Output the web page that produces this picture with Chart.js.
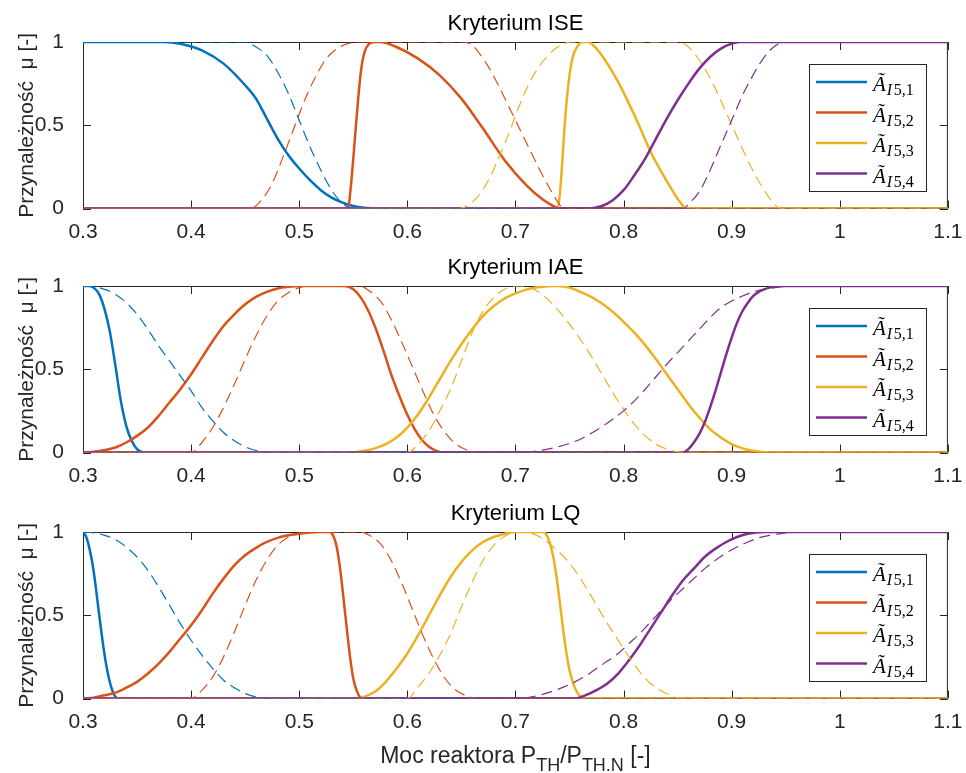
<!DOCTYPE html>
<html><head><meta charset="utf-8">
<script src="https://cdn.jsdelivr.net/npm/chart.js@4.4.0/dist/chart.umd.min.js"></script>
<style>
html,body{margin:0;padding:0;background:#fff;width:966px;height:773px;overflow:hidden}
canvas{position:absolute;left:0}
</style></head><body>
<canvas id="c0" width="966" height="245" style="top:0px"></canvas>
<canvas id="c1" width="966" height="245" style="top:244px"></canvas>
<canvas id="c2" width="966" height="283" style="top:490px"></canvas>
<script>
// ---------- tick values / labels ----------
const xTicks = [0.3,0.4,0.5,0.6,0.7,0.8,0.9,1.0,1.1];
const xTickLabels = ['0.3','0.4','0.5','0.6','0.7','0.8','0.9','1','1.1'];
const yTicks = [0,0.5,1];
const yTickLabels = ['0','0.5','1'];
const panelTitles = ['Kryterium ISE','Kryterium IAE','Kryterium LQ'];
const yTitle = 'Przynależność  μ [-]';
const xTitleParts = [['Moc reaktora P',0],['TH',1],['/P',0],['TH.N',1],[' [-]',0]];
const legendMain = 'Ã';
const legendSubs = ['I','I','I','I'];
const legendIdx = ['5,1','5,2','5,3','5,4'];
const colors = ['#0072BD','#D95319','#EDB120','#7E2F8E'];

// ---------- ISE (x, mu) ----------
const ISE_s1 = [[0.3,1],[0.375,1],[0.39,0.99],[0.41,0.95],[0.43,0.87],[0.45,0.74],[0.46,0.66],[0.47,0.54],[0.48,0.42],[0.49,0.32],[0.5,0.24],[0.51,0.17],[0.52,0.11],[0.53,0.065],[0.54,0.035],[0.55,0.015],[0.56,0.005],[0.575,0],[1.1,0]];
const ISE_d1 = [[0.3,1],[0.45,1],[0.46,0.97],[0.47,0.92],[0.48,0.82],[0.49,0.69],[0.5,0.53],[0.51,0.37],[0.52,0.23],[0.53,0.11],[0.54,0.03],[0.55,0],[1.1,0]];
const ISE_s2 = [[0.3,0],[0.545,0],[0.548,0.15],[0.551,0.38],[0.554,0.62],[0.557,0.82],[0.56,0.93],[0.564,0.985],[0.57,1],[0.575,1],[0.59,0.97],[0.61,0.9],[0.63,0.8],[0.65,0.66],[0.67,0.48],[0.69,0.29],[0.71,0.14],[0.725,0.055],[0.735,0.015],[0.742,0],[1.1,0]];
const ISE_d2 = [[0.3,0],[0.455,0],[0.465,0.05],[0.475,0.15],[0.485,0.31],[0.495,0.48],[0.505,0.65],[0.515,0.79],[0.525,0.9],[0.535,0.96],[0.545,0.99],[0.555,1],[0.652,1],[0.66,0.98],[0.668,0.92],[0.676,0.84],[0.685,0.73],[0.694,0.61],[0.703,0.49],[0.712,0.37],[0.721,0.25],[0.73,0.14],[0.738,0.05],[0.745,0],[1.1,0]];
const ISE_s3 = [[0.3,0],[0.739,0],[0.741,0.08],[0.743,0.25],[0.745,0.45],[0.747,0.62],[0.75,0.8],[0.753,0.91],[0.757,0.97],[0.762,1],[0.767,1],[0.775,0.96],[0.785,0.87],[0.795,0.76],[0.805,0.63],[0.815,0.49],[0.825,0.34],[0.835,0.22],[0.845,0.11],[0.852,0.04],[0.858,0],[1.1,0]];
const ISE_d3 = [[0.3,0],[0.648,0],[0.655,0.015],[0.665,0.07],[0.675,0.17],[0.685,0.31],[0.695,0.47],[0.705,0.64],[0.715,0.78],[0.725,0.88],[0.735,0.95],[0.745,0.99],[0.752,1],[0.852,1],[0.86,0.97],[0.868,0.91],[0.876,0.83],[0.885,0.72],[0.894,0.59],[0.903,0.46],[0.912,0.33],[0.921,0.21],[0.93,0.11],[0.938,0.04],[0.945,0],[1.1,0]];
const ISE_s4 = [[0.3,0],[0.768,0],[0.78,0.015],[0.79,0.05],[0.8,0.11],[0.81,0.2],[0.82,0.3],[0.83,0.42],[0.84,0.54],[0.85,0.65],[0.86,0.75],[0.87,0.84],[0.88,0.91],[0.89,0.96],[0.9,0.99],[0.907,1],[1.1,1]];
const ISE_d4 = [[0.3,0],[0.855,0],[0.862,0.04],[0.87,0.1],[0.878,0.2],[0.886,0.32],[0.894,0.44],[0.902,0.56],[0.91,0.68],[0.918,0.78],[0.926,0.87],[0.934,0.94],[0.941,0.98],[0.948,1],[1.1,1]];

// ---------- IAE ----------
const IAE_s1 = [[0.3,1],[0.305,1],[0.31,0.99],[0.315,0.95],[0.32,0.86],[0.325,0.72],[0.33,0.52],[0.335,0.31],[0.34,0.16],[0.345,0.07],[0.35,0.02],[0.356,0],[1.1,0]];
const IAE_d1 = [[0.3,1],[0.31,0.995],[0.32,0.98],[0.33,0.95],[0.34,0.9],[0.35,0.83],[0.36,0.74],[0.37,0.64],[0.38,0.55],[0.39,0.46],[0.4,0.37],[0.41,0.27],[0.42,0.19],[0.43,0.12],[0.44,0.07],[0.45,0.035],[0.46,0.012],[0.47,0],[1.1,0]];
const IAE_s2 = [[0.3,0],[0.31,0.005],[0.32,0.015],[0.33,0.03],[0.34,0.06],[0.35,0.1],[0.36,0.15],[0.37,0.22],[0.38,0.3],[0.39,0.38],[0.4,0.47],[0.41,0.57],[0.42,0.67],[0.43,0.76],[0.44,0.83],[0.45,0.89],[0.46,0.935],[0.47,0.965],[0.48,0.985],[0.49,0.995],[0.5,1],[0.542,1],[0.55,0.98],[0.557,0.93],[0.564,0.85],[0.571,0.74],[0.578,0.61],[0.585,0.47],[0.592,0.35],[0.599,0.24],[0.606,0.15],[0.613,0.08],[0.62,0.035],[0.627,0.01],[0.633,0],[1.1,0]];
const IAE_d2 = [[0.3,0],[0.4,0],[0.41,0.06],[0.42,0.15],[0.43,0.27],[0.44,0.41],[0.45,0.56],[0.46,0.7],[0.47,0.82],[0.48,0.91],[0.49,0.96],[0.5,0.99],[0.51,1],[0.556,1],[0.565,0.97],[0.575,0.91],[0.585,0.8],[0.595,0.66],[0.605,0.51],[0.615,0.36],[0.625,0.22],[0.635,0.12],[0.645,0.05],[0.655,0.015],[0.665,0],[1.1,0]];
const IAE_s3 = [[0.3,0],[0.55,0],[0.56,0.01],[0.57,0.025],[0.58,0.05],[0.59,0.09],[0.6,0.15],[0.61,0.23],[0.62,0.33],[0.63,0.44],[0.64,0.55],[0.65,0.65],[0.66,0.74],[0.67,0.82],[0.68,0.88],[0.69,0.925],[0.7,0.955],[0.71,0.978],[0.72,0.992],[0.73,0.999],[0.74,1],[0.75,0.99],[0.76,0.965],[0.77,0.935],[0.78,0.895],[0.79,0.845],[0.8,0.785],[0.81,0.72],[0.82,0.645],[0.83,0.56],[0.84,0.47],[0.85,0.38],[0.86,0.29],[0.87,0.21],[0.88,0.14],[0.89,0.09],[0.9,0.05],[0.91,0.025],[0.92,0.01],[0.935,0],[1.1,0]];
const IAE_d3 = [[0.3,0],[0.6,0],[0.61,0.05],[0.62,0.13],[0.63,0.25],[0.64,0.38],[0.65,0.55],[0.66,0.72],[0.67,0.85],[0.68,0.93],[0.69,0.98],[0.7,1],[0.708,1],[0.72,0.97],[0.73,0.92],[0.74,0.85],[0.75,0.77],[0.76,0.68],[0.77,0.58],[0.78,0.47],[0.79,0.36],[0.8,0.26],[0.81,0.17],[0.82,0.1],[0.83,0.05],[0.84,0.02],[0.85,0.005],[0.856,0],[1.1,0]];
const IAE_s4 = [[0.3,0],[0.855,0],[0.86,0.02],[0.865,0.06],[0.87,0.11],[0.875,0.18],[0.88,0.27],[0.885,0.37],[0.89,0.48],[0.895,0.59],[0.9,0.69],[0.905,0.78],[0.91,0.85],[0.915,0.9],[0.92,0.94],[0.925,0.965],[0.93,0.98],[0.935,0.99],[0.942,1],[1.1,1]];
const IAE_d4 = [[0.3,0],[0.71,0],[0.72,0.01],[0.73,0.02],[0.74,0.035],[0.75,0.055],[0.76,0.08],[0.77,0.115],[0.78,0.155],[0.79,0.2],[0.8,0.25],[0.81,0.31],[0.82,0.38],[0.83,0.455],[0.84,0.53],[0.85,0.6],[0.86,0.67],[0.87,0.74],[0.88,0.81],[0.89,0.87],[0.9,0.91],[0.91,0.94],[0.92,0.965],[0.93,0.98],[0.94,0.99],[0.955,1],[1.1,1]];

// ---------- LQ ----------
const LQ_s1 = [[0.3,1],[0.303,0.97],[0.306,0.9],[0.309,0.8],[0.312,0.66],[0.315,0.5],[0.318,0.35],[0.321,0.22],[0.324,0.12],[0.327,0.05],[0.33,0.01],[0.333,0],[1.1,0]];
const LQ_d1 = [[0.3,1],[0.31,0.995],[0.32,0.98],[0.33,0.955],[0.34,0.91],[0.35,0.85],[0.36,0.77],[0.37,0.67],[0.38,0.56],[0.39,0.45],[0.4,0.35],[0.41,0.26],[0.42,0.18],[0.43,0.11],[0.44,0.065],[0.45,0.03],[0.46,0.01],[0.47,0],[1.1,0]];
const LQ_s2 = [[0.3,0],[0.31,0.005],[0.32,0.02],[0.33,0.035],[0.34,0.065],[0.35,0.1],[0.36,0.15],[0.37,0.21],[0.38,0.28],[0.39,0.36],[0.4,0.44],[0.41,0.53],[0.42,0.63],[0.43,0.72],[0.44,0.8],[0.45,0.86],[0.46,0.905],[0.47,0.94],[0.48,0.965],[0.49,0.98],[0.5,0.99],[0.51,0.997],[0.52,1],[0.528,1],[0.532,0.97],[0.535,0.9],[0.538,0.77],[0.541,0.6],[0.544,0.42],[0.547,0.25],[0.55,0.12],[0.553,0.05],[0.556,0.01],[0.559,0],[1.1,0]];
const LQ_d2 = [[0.3,0],[0.4,0],[0.41,0.05],[0.42,0.13],[0.43,0.25],[0.44,0.4],[0.45,0.56],[0.46,0.71],[0.47,0.83],[0.48,0.92],[0.49,0.97],[0.5,0.99],[0.51,1],[0.557,1],[0.565,0.98],[0.575,0.93],[0.585,0.83],[0.595,0.69],[0.605,0.53],[0.615,0.37],[0.625,0.23],[0.635,0.12],[0.645,0.05],[0.655,0.015],[0.665,0],[1.1,0]];
const LQ_s3 = [[0.3,0],[0.555,0],[0.56,0.01],[0.57,0.04],[0.58,0.1],[0.59,0.18],[0.6,0.27],[0.61,0.38],[0.62,0.5],[0.63,0.62],[0.64,0.73],[0.65,0.82],[0.66,0.89],[0.67,0.94],[0.68,0.97],[0.69,0.99],[0.7,1],[0.726,1],[0.729,0.98],[0.732,0.93],[0.735,0.85],[0.738,0.73],[0.741,0.58],[0.744,0.42],[0.747,0.28],[0.75,0.17],[0.753,0.1],[0.756,0.05],[0.759,0.02],[0.763,0],[1.1,0]];
const LQ_d3 = [[0.3,0],[0.6,0],[0.61,0.07],[0.62,0.15],[0.63,0.26],[0.64,0.39],[0.65,0.55],[0.66,0.7],[0.67,0.83],[0.68,0.92],[0.69,0.975],[0.7,0.998],[0.708,1],[0.716,0.99],[0.725,0.96],[0.735,0.91],[0.745,0.85],[0.755,0.77],[0.765,0.67],[0.775,0.56],[0.785,0.45],[0.795,0.35],[0.805,0.25],[0.815,0.16],[0.825,0.09],[0.835,0.045],[0.845,0.015],[0.852,0],[1.1,0]];
const LQ_s4 = [[0.3,0],[0.755,0],[0.765,0.02],[0.775,0.05],[0.785,0.09],[0.795,0.15],[0.805,0.23],[0.815,0.32],[0.825,0.42],[0.835,0.52],[0.845,0.62],[0.855,0.71],[0.865,0.78],[0.875,0.85],[0.885,0.9],[0.895,0.94],[0.905,0.97],[0.915,0.99],[0.93,1],[1.1,1]];
const LQ_d4 = [[0.3,0],[0.705,0],[0.715,0.01],[0.725,0.025],[0.735,0.045],[0.745,0.07],[0.755,0.1],[0.765,0.135],[0.775,0.18],[0.785,0.225],[0.795,0.27],[0.805,0.33],[0.815,0.39],[0.825,0.46],[0.835,0.53],[0.845,0.6],[0.855,0.66],[0.865,0.72],[0.875,0.78],[0.885,0.83],[0.895,0.875],[0.905,0.91],[0.915,0.94],[0.925,0.965],[0.935,0.98],[0.945,0.99],[0.96,1],[1.1,1]];

const panels = [
  {solid:[ISE_s1,ISE_s2,ISE_s3,ISE_s4], dashed:[ISE_d1,ISE_d2,ISE_d3,ISE_d4]},
  {solid:[IAE_s1,IAE_s2,IAE_s3,IAE_s4], dashed:[IAE_d1,IAE_d2,IAE_d3,IAE_d4]},
  {solid:[LQ_s1,LQ_s2,LQ_s3,LQ_s4], dashed:[LQ_d1,LQ_d2,LQ_d3,LQ_d4]}
];

const SANS = '"Liberation Sans", Arial, sans-serif';
const SERIF = '"Liberation Serif", "Times New Roman", serif';
const AXC = '#262626';

const toXY = arr => arr.map(p => ({x:p[0], y:p[1]}));

const matlabPlugin = {
  id: 'matlabAxes',
  beforeDatasetsDraw(chart) {
    const ctx = chart.ctx, ca = chart.chartArea;
    const sx = chart.scales.x, sy = chart.scales.y;
    ctx.save();
    ctx.strokeStyle = AXC; ctx.lineWidth = 1;
    ctx.strokeRect(ca.left + 0.5, ca.top + 0.5, ca.right - ca.left - 1, ca.bottom - ca.top - 1);
    ctx.beginPath();
    xTicks.forEach(v => {
      const px = Math.round(sx.getPixelForValue(v)) + 0.5;
      ctx.moveTo(px, ca.bottom); ctx.lineTo(px, ca.bottom - 8);
      ctx.moveTo(px, ca.top); ctx.lineTo(px, ca.top + 8);
    });
    yTicks.forEach(v => {
      const py = Math.round(sy.getPixelForValue(v)) + 0.5;
      ctx.moveTo(ca.left, py); ctx.lineTo(ca.left + 8, py);
      ctx.moveTo(ca.right, py); ctx.lineTo(ca.right - 8, py);
    });
    ctx.stroke();
    ctx.restore();
  },
  afterDraw(chart) {
    const ctx = chart.ctx, ca = chart.chartArea;
    const idx = chart.options.plugins.matlabAxes.panel;
    ctx.save();
    // title
    ctx.fillStyle = '#000';
    ctx.font = '22px ' + SANS;
    ctx.textAlign = 'center'; ctx.textBaseline = 'middle';
    ctx.fillText(panelTitles[idx], (ca.left + ca.right) / 2, ca.top - 18);
    // legend
    const bw = 117, bh = 127;
    const bx = Math.round(ca.right - 22 - bw), by = Math.round(ca.top + 21.5);
    ctx.fillStyle = '#fff'; ctx.fillRect(bx, by, bw, bh);
    ctx.strokeStyle = AXC; ctx.lineWidth = 1;
    ctx.strokeRect(bx + 0.5, by + 0.5, bw, bh);
    ctx.textAlign = 'left'; ctx.textBaseline = 'alphabetic';
    for (let k = 0; k < 4; k++) {
      const ry = by + 18 + k * 30.5;
      ctx.strokeStyle = colors[k]; ctx.lineWidth = 2.5; ctx.setLineDash([]);
      ctx.beginPath(); ctx.moveTo(bx + 7, ry); ctx.lineTo(bx + 58, ry); ctx.stroke();
      ctx.fillStyle = '#000';
      ctx.font = 'italic 21px ' + SERIF;
      let x = bx + 64;
      ctx.fillText(legendMain, x, ry + 9);
      x += ctx.measureText(legendMain).width + 1;
      ctx.font = 'italic 16px ' + SERIF;
      ctx.fillText(legendSubs[k], x, ry + 13);
      x += ctx.measureText(legendSubs[k]).width + 1.5;
      ctx.font = '16px ' + SERIF;
      ctx.fillText(legendIdx[k], x, ry + 13);
    }
    // x label on the last panel
    if (idx === 2) {
      const mainF = '23px ' + SANS, subF = '18px ' + SANS;
      let w = 0;
      xTitleParts.forEach(p => { ctx.font = p[1] ? subF : mainF; w += ctx.measureText(p[0]).width; });
      let x = (ca.left + ca.right) / 2 - w / 2;
      const base = ca.bottom + 64;
      ctx.fillStyle = AXC;
      xTitleParts.forEach(p => {
        ctx.font = p[1] ? subF : mainF;
        ctx.fillText(p[0], x, base + (p[1] ? 8 : 0));
        x += ctx.measureText(p[0]).width;
      });
    }
    ctx.restore();
  }
};

function makeChart(id, idx, bottomPad) {
  const P = panels[idx];
  const datasets = [];
  for (let k = 0; k < 4; k++) {
    datasets.push({data: toXY(P.solid[k]), borderColor: colors[k], borderWidth: 2.5,
      pointRadius: 0, cubicInterpolationMode: 'monotone', fill: false, order: 8 - k});
  }
  for (let k = 0; k < 4; k++) {
    datasets.push({data: toXY(P.dashed[k]), borderColor: colors[k], borderWidth: 1.2, borderDash: [11, 6],
      pointRadius: 0, cubicInterpolationMode: 'monotone', fill: false, order: 4 - k});
  }
  return new Chart(document.getElementById(id), {
    type: 'line',
    data: {datasets},
    options: {
      responsive: false, animation: false, devicePixelRatio: 1,
      layout: {padding: {left: 10, right: 17, top: 42, bottom: bottomPad}},
      plugins: {legend: {display: false}, tooltip: {enabled: false}, matlabAxes: {panel: idx}},
      scales: {
        x: {type: 'linear', min: 0.3, max: 1.1,
          afterBuildTicks: s => { s.ticks = xTicks.map(v => ({value: v})); },
          afterFit: s => { s.height = 36.5; },
          grid: {display: false}, border: {display: false},
          ticks: {autoSkip: false, maxRotation: 0, padding: 3.5, color: AXC,
            font: {family: SANS, size: 21}, callback: (v, i) => xTickLabels[i]}},
        y: {type: 'linear', min: 0, max: 1,
          afterBuildTicks: s => { s.ticks = yTicks.map(v => ({value: v})); },
          afterFit: s => { s.width = 73; },
          grid: {display: false}, border: {display: false},
          title: {display: true, text: yTitle, color: AXC, font: {family: SANS, size: 21}, padding: {top: 5, bottom: 0}},
          ticks: {padding: 11, color: AXC, font: {family: SANS, size: 21}, callback: (v, i) => yTickLabels[i]}}
      }
    },
    plugins: [matlabPlugin]
  });
}

makeChart('c0', 0, 0);
makeChart('c1', 1, 0);
makeChart('c2', 2, 38);
</script>
</body></html>
